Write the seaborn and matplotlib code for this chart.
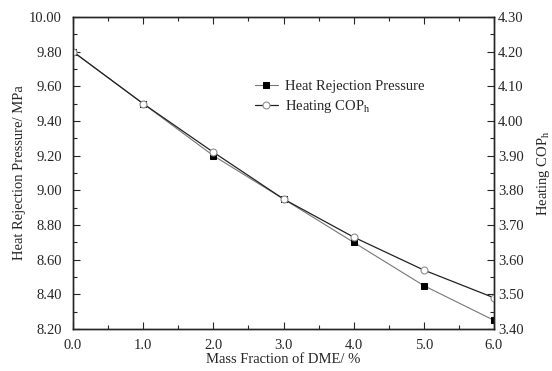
import numpy as np
import pandas as pd
import matplotlib
matplotlib.use('Agg')
import matplotlib.pyplot as plt
import seaborn as sns
from matplotlib.ticker import MultipleLocator, FormatStrFormatter

# Data
mass_fraction = [0.0, 1.0, 2.0, 3.0, 4.0, 5.0, 6.0]
pressure = [9.80, 9.50, 9.20, 8.95, 8.70, 8.45, 8.25]
cop = [4.20, 4.05, 3.91, 3.775, 3.665, 3.57, 3.49]

df = pd.DataFrame({'x': mass_fraction, 'p': pressure, 'cop': cop})

sns.set_style('ticks')
plt.rcParams['font.family'] = ['Liberation Serif', 'DejaVu Serif']
plt.rcParams['xtick.direction'] = 'in'
plt.rcParams['ytick.direction'] = 'in'

fig = plt.figure(figsize=(5.52, 3.71), dpi=100)
ax = fig.add_axes([73/552, 1 - 329/371, (494 - 73)/552, (329 - 17)/371])
ax2 = ax.twinx()

sns.lineplot(data=df, x='x', y='p', ax=ax, color='#777777', lw=0.8,
             marker='s', markersize=5, markerfacecolor='black',
             markeredgecolor='black', label='Heat Rejection Pressure', legend=False)
sns.lineplot(data=df, x='x', y='cop', ax=ax2, color='#222222', lw=0.9,
             marker='o', markersize=5, markerfacecolor='white',
             markeredgecolor='#888888', label='Heating COP$_\\mathregular{h}$', legend=False)

ax.set_xlim(0, 6)
ax.set_ylim(8.2, 10.0)
ax2.set_ylim(3.4, 4.3)

ax.xaxis.set_major_locator(MultipleLocator(1.0))
ax.xaxis.set_minor_locator(MultipleLocator(0.5))
ax.xaxis.set_major_formatter(FormatStrFormatter('%.1f'))
ax.yaxis.set_major_locator(MultipleLocator(0.2))
ax.yaxis.set_minor_locator(MultipleLocator(0.1))
ax.yaxis.set_major_formatter(FormatStrFormatter('%.2f'))
ax2.yaxis.set_major_locator(MultipleLocator(0.1))
ax2.yaxis.set_minor_locator(MultipleLocator(0.05))
ax2.yaxis.set_major_formatter(FormatStrFormatter('%.2f'))

for a in (ax, ax2):
    a.tick_params(which='major', length=5, width=0.8, labelsize=10.5)
    a.tick_params(which='minor', length=3, width=0.8)
    for s in a.spines.values():
        s.set_linewidth(1.0)
ax.tick_params(which='both', top=True)
ax.tick_params(axis='x', pad=7)
ax.tick_params(axis='y', which='both', right=False, pad=8)
ax2.tick_params(axis='y', which='both', left=False, right=True, pad=3)

ax.set_xlabel('Mass Fraction of DME/ %', fontsize=10.5, labelpad=1)
ax.set_ylabel('Heat Rejection Pressure/ MPa', fontsize=10.5, labelpad=2)
ax2.set_ylabel('Heating COP$_\\mathregular{h}$', fontsize=10.5, labelpad=8,
               rotation=90)

h1, l1 = ax.get_legend_handles_labels()
h2, l2 = ax2.get_legend_handles_labels()
ax2.legend(h1 + h2, l1 + l2, frameon=False, fontsize=10.5,
           loc='upper left', bbox_to_anchor=(0.4, 0.84),
           handlelength=1.6, handletextpad=0.5, labelspacing=0.3)

plt.savefig('out.png', dpi=100)
